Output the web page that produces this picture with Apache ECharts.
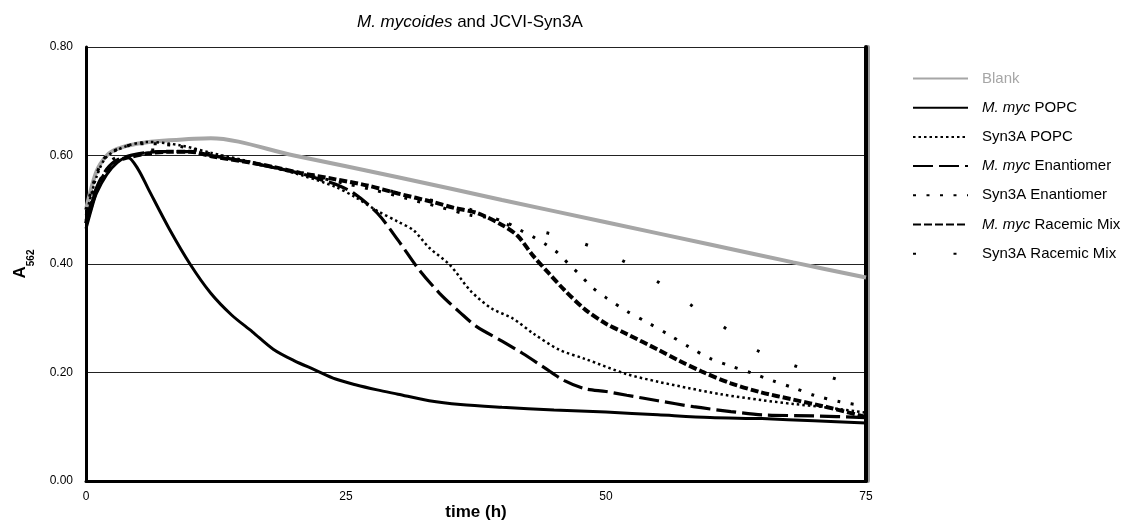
<!DOCTYPE html>
<html>
<head>
<meta charset="utf-8">
<title>M. mycoides and JCVI-Syn3A</title>
<script src="https://cdn.jsdelivr.net/npm/echarts@6/dist/echarts.min.js"></script>
<style>
  html, body { margin: 0; padding: 0; background: #fff; }
  #chart { width: 1132px; height: 521px; }
</style>
</head>
<body>
<div id="chart"></div>
<script>
// Absorbance (A562) readings over time, [hours, A562]
const blank = [[0,0.50],[1,0.57],[2,0.600],[3,0.612],[5,0.622],[8,0.628],[12,0.632],[20,0.600],[30,0.560],[40,0.518],[50,0.477],[60,0.436],[68,0.403],[75,0.375]];
const mycPopc = [[0,0.465],[0.5,0.50],[1,0.53],[2,0.565],[3,0.587],[4,0.597],[5,0.575],[6,0.538],[8,0.465],[10,0.400],[12,0.346],[14,0.306],[16,0.275],[18,0.243],[20,0.222],[22,0.205],[24,0.188],[26,0.177],[28,0.168],[30,0.160],[33,0.148],[36,0.141],[40,0.136],[45,0.131],[50,0.127],[55,0.122],[60,0.117],[65,0.115],[70,0.111],[75,0.107]];
const syn3aPopc = [[0,0.49],[1,0.56],[2,0.598],[4,0.618],[6,0.625],[9,0.619],[12,0.605],[15,0.592],[18,0.578],[21,0.562],[24,0.542],[26,0.522],[28,0.498],[30,0.478],[31.5,0.462],[33,0.430],[35,0.398],[37,0.350],[39,0.318],[41,0.300],[43,0.272],[45.5,0.242],[48,0.225],[52,0.197],[55,0.183],[58,0.171],[61,0.160],[65,0.149],[68,0.142],[71,0.136],[75,0.126]];
const mycEnantiomer = [[0,0.48],[1,0.54],[2,0.575],[3,0.592],[5,0.603],[7,0.607],[10,0.607],[12,0.600],[15,0.590],[18,0.578],[21,0.565],[23,0.553],[24,0.547],[25.7,0.531],[28,0.494],[30,0.444],[32,0.390],[34,0.346],[36,0.310],[37.6,0.284],[40,0.258],[42,0.235],[44,0.210],[46,0.185],[48,0.170],[50,0.165],[52,0.158],[55,0.148],[58.4,0.137],[62,0.128],[65,0.122],[70,0.120],[75,0.117]];
const syn3aEnantiomer = [[0,0.50],[1,0.565],[2,0.600],[4,0.618],[6,0.622],[9,0.617],[12,0.603],[15,0.590],[18,0.578],[21,0.565],[25,0.548],[28,0.535],[31,0.520],[34,0.505],[37,0.490],[39,0.485],[40.5,0.476],[41.7,0.463],[43,0.450],[44.3,0.435],[45.4,0.420],[46.5,0.398],[47.5,0.380],[48.6,0.358],[50,0.338],[52,0.313],[54,0.292],[56,0.270],[58,0.247],[60,0.226],[62,0.212],[64,0.199],[66,0.185],[68,0.172],[70,0.158],[72.5,0.146],[75,0.138]];
const mycRacemic = [[0,0.475],[1,0.535],[2,0.572],[3,0.590],[4.2,0.597],[6,0.604],[8,0.607],[10,0.607],[12.2,0.598],[15.5,0.588],[18,0.579],[20.6,0.568],[24,0.556],[27,0.545],[30,0.530],[33.4,0.514],[35.5,0.503],[37.6,0.494],[40,0.472],[41.5,0.452],[43,0.415],[44.5,0.383],[46,0.352],[48,0.316],[50,0.290],[52,0.271],[55,0.242],[57,0.222],[59.3,0.201],[62,0.180],[64.8,0.164],[68,0.150],[71.3,0.136],[75,0.118]];
const syn3aRacemic = [[0,0.49],[1,0.55],[2,0.585],[4,0.605],[6,0.610],[9,0.610],[12,0.600],[15,0.590],[18,0.578],[21,0.567],[25,0.553],[28,0.540],[31,0.527],[34,0.514],[37,0.500],[40.6,0.472],[44.4,0.457],[48.2,0.435],[51.7,0.405],[55,0.367],[58.2,0.324],[61.3,0.284],[64.6,0.240],[68.2,0.212],[71.8,0.190],[75,0.168]];

const seriesNames = ['Blank', 'M. myc POPC', 'Syn3A POPC', 'M. myc Enantiomer', 'Syn3A Enantiomer', 'M. myc Racemic Mix', 'Syn3A Racemic Mix'];
const seriesData = [blank, mycPopc, syn3aPopc, mycEnantiomer, syn3aEnantiomer, mycRacemic, syn3aRacemic];

// stroke look of each trace: colour, width, dash pattern, dash phase
const strokes = [
  { color: '#a6a6a6', width: 4, type: 'solid', offset: 0 },
  { color: '#000', width: 3, type: 'solid', offset: 0 },
  { color: '#000', width: 2.5, type: [2.5, 3], offset: 0 },
  { color: '#000', width: 3.2, type: [20, 6], offset: 0 },
  { color: '#000', width: 3, type: [3, 10.5], offset: 0 },
  { color: '#000', width: 4, type: [8, 3], offset: 0 },
  { color: '#000', width: 3, type: [3, 37.5], offset: 18 }
];

const FONT = '"Liberation Sans", Arial, Helvetica, sans-serif';

const chart = echarts.init(document.getElementById('chart'), null, { renderer: 'canvas' });

function legendLabel(name) {
  if (name.indexOf('M. myc ') === 0) return '{i|M. myc} ' + name.slice(7);
  return name;
}

chart.setOption({
  animation: false,
  backgroundColor: '#fff',
  title: {
    text: '{i|M. mycoides} and JCVI-Syn3A',
    left: 352,
    top: 9,
    textStyle: {
      fontFamily: FONT, fontSize: 17, fontWeight: 'normal', color: '#000',
      rich: { i: { fontFamily: FONT, fontSize: 17, fontStyle: 'italic', color: '#000' } }
    }
  },
  legend: {
    orient: 'vertical',
    left: 907,
    top: 66,
    itemWidth: 55,
    itemHeight: 14,
    itemGap: 14.2,
    itemStyle: { opacity: 0 },
    lineStyle: { dashOffset: 0 },
    data: seriesNames.map((n, i) => i === 0
      ? { name: n, textStyle: { color: '#a6a6a6' } }
      : { name: n }),
    formatter: legendLabel,
    textStyle: {
      fontFamily: FONT, fontSize: 15, color: '#000', lineHeight: 14,
      padding: [0, 0, 0, 9],
      rich: { i: { fontFamily: FONT, fontSize: 15, fontStyle: 'italic', color: '#000', lineHeight: 14 } }
    }
  },
  grid: { left: 86, right: 266, top: 47, bottom: 40, containLabel: false, outerBoundsMode: 'none' },
  xAxis: {
    type: 'value',
    min: 0, max: 75, interval: 25,
    name: 'time (h)',
    nameLocation: 'middle',
    nameGap: 23,
    nameMoveOverlap: false,
    nameTextStyle: { fontFamily: FONT, fontSize: 17, fontWeight: 'bold', color: '#000' },
    axisLine: { show: true, onZero: false, lineStyle: { color: '#000', width: 3 } },
    axisTick: { show: false },
    splitLine: { show: false },
    axisLabel: { fontFamily: FONT, fontSize: 12, color: '#000', margin: 10 }
  },
  yAxis: [
    {
      type: 'value',
      min: 0, max: 0.8, interval: 0.2,
      name: '{a|A}{s|562}',
      nameLocation: 'middle',
      nameGap: 50,
      nameRotate: 90,
      nameMoveOverlap: false,
      nameTextStyle: {
        fontFamily: FONT, color: '#000',
        rich: {
          a: { fontFamily: FONT, fontSize: 17, fontWeight: 'bold', color: '#000', lineHeight: 24, verticalAlign: 'top' },
          s: { fontFamily: FONT, fontSize: 10, fontWeight: 'bold', color: '#000', lineHeight: 24, verticalAlign: 'bottom' }
        }
      },
      axisLine: { show: true, lineStyle: { color: '#000', width: 3 } },
      axisTick: { show: false },
      splitLine: { show: true, lineStyle: { color: '#222', width: 1 } },
      axisLabel: {
        fontFamily: FONT, fontSize: 12, color: '#000', margin: 13,
        formatter: v => v.toFixed(2)
      }
    },
    {
      // right-hand frame of the plot area
      type: 'value',
      position: 'right',
      min: 0, max: 0.8, interval: 0.2,
      axisLine: { show: true, lineStyle: { color: '#000', width: 4, shadowColor: '#9a9a9a', shadowOffsetX: 2 } },
      axisTick: { show: false },
      axisLabel: { show: false },
      splitLine: { show: false }
    }
  ],
  series: seriesNames.map((name, i) => ({
    name: name,
    type: 'line',
    data: seriesData[i],
    smooth: 0.3,
    symbol: 'none',
    showSymbol: false,
    clip: true,
    z: i === 0 ? 1 : 2 + i,
    color: strokes[i].color,
    lineStyle: {
      color: strokes[i].color,
      width: strokes[i].width,
      type: strokes[i].type,
      dashOffset: strokes[i].offset,
      cap: 'butt'
    },
    emphasis: { disabled: true }
  }))
});
</script>
</body>
</html>
